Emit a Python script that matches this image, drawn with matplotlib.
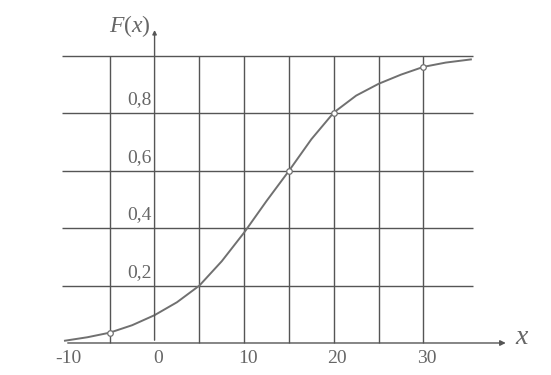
import matplotlib.pyplot as plt

x = [-10, -7.5, -5, -2.5, 0, 2.5, 5, 7.5, 10, 12.5, 15, 17.5, 20, 22.5, 25, 27.5, 30, 32.5, 35.3]
F = [0.008, 0.02, 0.036, 0.062, 0.097, 0.142, 0.2, 0.285, 0.385, 0.495, 0.6, 0.71, 0.803,
     0.862, 0.903, 0.935, 0.962, 0.977, 0.988]
mark_x = [-5, 15, 20, 30]
mark_F = [0.036, 0.6, 0.803, 0.962]

x_ticks = [-10, 0, 10, 20, 30]
y_ticks = [0.2, 0.4, 0.6, 0.8]
y_labels = ['0,2', '0,4', '0,6', '0,8']
grid_x = [-5, 5, 10, 15, 20, 25, 30]
grid_y = [0.2, 0.4, 0.6, 0.8, 1.0]

plt.rcParams['font.family'] = ['Liberation Serif', 'DejaVu Serif']
plt.rcParams['mathtext.fontset'] = 'custom'
plt.rcParams['mathtext.rm'] = 'Liberation Serif'
plt.rcParams['mathtext.it'] = 'Liberation Serif:italic'
line_c = '#555555'
text_c = '#666666'

fig = plt.figure(figsize=(5.51, 3.75), dpi=100)
ax = fig.add_axes([0, 0, 1, 1])
ax.set_xlim(-17.25, 44.24)
ax.set_ylim(-0.1115, 1.195)
ax.set_axis_off()

# сетка
ax.hlines(grid_y, -10.3, 35.5, color=line_c, lw=1.0)
ax.vlines(grid_x, 0, 1.0, color=line_c, lw=1.0)

# оси
ax.annotate('', xy=(39.5, 0), xytext=(-10, 0),
            arrowprops=dict(arrowstyle='-|>', color=line_c, lw=1.0, mutation_scale=8))
ax.annotate('', xy=(0, 1.1), xytext=(0, 0),
            arrowprops=dict(arrowstyle='-|>', color=line_c, lw=1.0, mutation_scale=6))

# кривая F(x)
ax.plot(x, F, color='#707070', lw=1.4)
ax.plot(mark_x, mark_F, 'o', ms=4, mfc='white', mec='#707070', mew=0.9)

# подписи
for t in x_ticks:
    ax.text(t + 0.4, -0.055, str(t), ha='center', va='center', fontsize=14, color=text_c)
for v, s in zip(y_ticks, y_labels):
    ax.text(-0.3, v + 0.017, s, ha='right', va='bottom', fontsize=14, color=text_c)
ax.text(-0.4, 1.06, '$F(x)$', ha='right', va='bottom', fontsize=17, color=text_c)
ax.text(41.0, 0.02, '$x$', ha='center', va='center', fontsize=20, color=text_c)

fig.savefig('out.png', dpi=100)
